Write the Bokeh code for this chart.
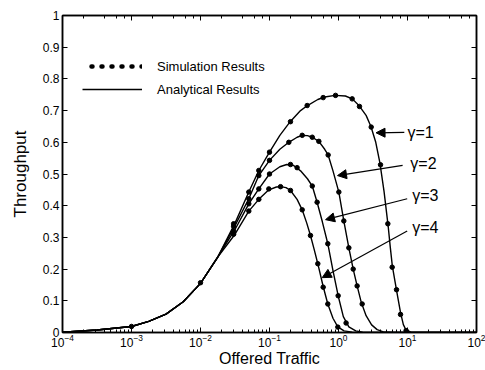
import numpy as np
from bokeh.plotting import figure
from bokeh.models import (LogAxis, LinearAxis, Legend, LegendItem, Arrow,
                          NormalHead, Label, FixedTicker, LogTicker, CustomJSTickFormatter)
from bokeh.embed import file_html
from bokeh.resources import INLINE

FONT = "Liberation Sans"

# ---------------- data ----------------
# analytical curves: log10(offered traffic) and throughput
low_logG = [-4, -3.5, -3, -2.75, -2.5, -2.25, -2, -1.75]
low_S = [0.001, 0.008, 0.019, 0.035, 0.058, 0.097, 0.155, 0.238]

g1_logG = [-1.5, -1.3, -1.155, -1.0, -0.85, -0.7, -0.55, -0.45, -0.3, -0.2, -0.05,
           0.1, 0.2, 0.3, 0.4, 0.47, 0.54, 0.6, 0.66, 0.72, 0.75, 0.78, 0.82, 0.86,
           0.9, 0.94, 0.98, 1.05, 1.3, 2.0]
g1_S = [0.345, 0.443, 0.511, 0.569, 0.622, 0.665, 0.700, 0.716, 0.735, 0.743, 0.748,
        0.746, 0.737, 0.715, 0.685, 0.650, 0.600, 0.535, 0.445, 0.335, 0.270, 0.210,
        0.160, 0.110, 0.062, 0.025, 0.007, 0.001, 0.0, 0.0]

g2_logG = [-1.5, -1.3, -1.155, -1.0, -0.85, -0.72, -0.6, -0.526, -0.45, -0.38, -0.285,
           -0.2, -0.15, -0.08, 0.005, 0.077, 0.15, 0.213, 0.27, 0.33, 0.4, 0.48, 0.56,
           0.65, 0.8, 2.0]
g2_S = [0.337, 0.422, 0.495, 0.543, 0.578, 0.600, 0.616, 0.622, 0.621, 0.616, 0.603,
        0.578, 0.560, 0.510, 0.443, 0.352, 0.267, 0.200, 0.147, 0.095, 0.053, 0.024,
        0.009, 0.002, 0.0, 0.0]

g3_logG = [-1.5, -1.3, -1.155, -1.0, -0.85, -0.75, -0.65, -0.55, -0.45, -0.38, -0.31,
           -0.235, -0.155, -0.08, -0.005, 0.07, 0.15, 0.25, 0.35, 0.5, 2.0]
g3_S = [0.325, 0.406, 0.453, 0.500, 0.523, 0.530, 0.527, 0.510, 0.485, 0.462, 0.411,
        0.350, 0.280, 0.195, 0.116, 0.050, 0.018, 0.005, 0.001, 0.0, 0.0]

g4_logG = [-1.5, -1.3, -1.155, -1.01, -0.9, -0.84, -0.76, -0.696, -0.6, -0.526, -0.46,
           -0.406, -0.35, -0.3, -0.222, -0.155, -0.08, -0.01, 0.08, 0.2, 0.35, 2.0]
g4_S = [0.310, 0.383, 0.420, 0.450, 0.459, 0.460, 0.457, 0.448, 0.420, 0.387, 0.345,
        0.306, 0.260, 0.217, 0.145, 0.090, 0.045, 0.018, 0.005, 0.001, 0.0, 0.0]

# simulation points
s1_logG = [-3, -2, -1.52, -1.3, -1.155, -1.0, -0.696, -0.454, -0.222, -0.043, 0.198,
           0.304, 0.474, 0.609, 0.715, 0.778, 0.841, 0.899, 0.98, 1.0]
s1_S = [0.019, 0.157, 0.343, 0.443, 0.511, 0.569, 0.665, 0.716, 0.741, 0.748, 0.737,
        0.713, 0.648, 0.529, 0.343, 0.206, 0.135, 0.057, 0.006, 0.0]
s2_logG = [-1.52, -1.3, -1.155, -1.0, -0.72, -0.526, -0.38, -0.285, -0.15, 0.005,
           0.077, 0.15, 0.213, 0.27, 0.343]
s2_S = [0.335, 0.422, 0.495, 0.543, 0.600, 0.622, 0.616, 0.603, 0.560, 0.443, 0.352,
        0.267, 0.200, 0.147, 0.090]
s3_logG = [-1.52, -1.3, -1.155, -1.0, -0.696, -0.6, -0.38, -0.31, -0.155, -0.005, 0.11]
s3_S = [0.320, 0.406, 0.453, 0.500, 0.530, 0.520, 0.462, 0.411, 0.280, 0.116, 0.030]
s4_logG = [-1.52, -1.3, -1.155, -1.01, -0.84, -0.696, -0.526, -0.406, -0.3, -0.222,
           -0.155, -0.01]
s4_S = [0.310, 0.383, 0.420, 0.453, 0.460, 0.448, 0.387, 0.306, 0.217, 0.143, 0.090, 0.017]

# annotations (gamma labels with arrows)
gamma_labels = ["\u03b3=1", "\u03b3=2", "\u03b3=3", "\u03b3=4"]
label_x = [10.0, 11.0, 11.7, 11.7]
label_y = [0.632, 0.532, 0.432, 0.332]
arrow_tail_x = [9.0, 8.5, 9.9, 9.9]
arrow_tail_y = [0.631, 0.527, 0.422, 0.320]
arrow_head_x = [3.5, 0.967, 0.649, 0.58]
arrow_head_y = [0.630, 0.495, 0.356, 0.173]

y_ticks = [0, 0.1, 0.2, 0.3, 0.4, 0.5, 0.6, 0.7, 0.8, 0.9, 1]
y_tick_labels = ["0", "0.1", "0.2", "0.3", "0.4", "0.5", "0.6", "0.7", "0.8", "0.9", "1"]

# ---------------- figure ----------------
p = figure(width=485, height=370, x_axis_type="log", x_range=(1e-4, 1e2),
           y_range=(0, 1), output_backend="svg", toolbar_location=None,
           min_border_left=62, min_border_top=15, min_border_right=9,
           min_border_bottom=38)
p.grid.visible = False
p.outline_line_color = "black"
p.outline_line_width = 1.5
p.background_fill_color = "white"
p.border_fill_color = "white"

blank = CustomJSTickFormatter(code="return '';")


def style_axis(ax):
    ax.axis_line_color = "black"
    ax.axis_line_width = 1.5
    ax.major_tick_in = 5
    ax.major_tick_out = 0
    ax.minor_tick_in = 3
    ax.minor_tick_out = 0
    ax.major_tick_line_color = "black"
    ax.minor_tick_line_color = "black"
    ax.major_label_text_font = FONT
    ax.major_label_text_font_size = "12px"
    ax.major_label_text_color = "black"
    ax.axis_label_text_font = FONT
    ax.axis_label_text_font_size = "16px"
    ax.axis_label_text_font_style = "normal"
    ax.axis_label_text_color = "black"


xa = p.xaxis[0]
style_axis(xa)
xa.axis_label = "Offered Traffic"
xa.major_label_standoff = 1
xa.axis_label_standoff = 0

ya = p.yaxis[0]
style_axis(ya)
ya.ticker = FixedTicker(ticks=y_ticks)
ya.major_label_overrides = {t: l for t, l in zip(y_ticks, y_tick_labels)}
ya.minor_tick_in = 0
ya.axis_label = "Throughput"
ya.axis_label_text_font_size = "17px"
ya.major_label_standoff = 3
ya.axis_label_standoff = 10

top = LogAxis(ticker=LogTicker(), formatter=blank)
style_axis(top)
top.major_label_standoff = 0
p.add_layout(top, "above")

right = LinearAxis(ticker=FixedTicker(ticks=y_ticks), formatter=blank)
style_axis(right)
right.minor_tick_in = 0
right.major_label_standoff = 0
p.add_layout(right, "right")

curves = [(g1_logG, g1_S), (g2_logG, g2_S), (g3_logG, g3_S), (g4_logG, g4_S)]
sims = [(s1_logG, s1_S), (s2_logG, s2_S), (s3_logG, s3_S), (s4_logG, s4_S)]

ana_renderers = []
for lg, s in curves:
    xs = [10 ** v for v in low_logG + lg]
    ys = low_S + s
    r = p.line(xs, ys, line_color="black", line_width=1.4)
    ana_renderers.append(r)

for lg, s in sims:
    p.scatter([10 ** v for v in lg], s, size=4.5, color="black")

# legend key for the simulation dots (one NaN point: draws nothing in the plot)
sim_key = p.line([np.nan], [np.nan], line_color="black", line_width=4.5,
                 line_dash="1 9", line_dash_offset=1, line_cap="round")

legend = Legend(items=[LegendItem(label="Simulation Results", renderers=[sim_key]),
                       LegendItem(label="Analytical Results", renderers=[ana_renderers[0]])],
                location=(20, 233), glyph_width=60, glyph_height=20, label_height=20,
                spacing=3, padding=0, margin=0, border_line_color=None,
                background_fill_alpha=0, label_standoff=15,
                label_text_font=FONT, label_text_font_size="13px",
                label_text_color="black")
p.add_layout(legend)

for lx, ly, txt, tx, ty, hx, hy in zip(label_x, label_y, gamma_labels, arrow_tail_x,
                                       arrow_tail_y, arrow_head_x, arrow_head_y):
    p.add_layout(Arrow(end=NormalHead(size=9, fill_color="black", line_color="black"),
                       x_start=tx, y_start=ty, x_end=hx, y_end=hy,
                       line_color="black", line_width=1.2))
    p.add_layout(Label(x=lx, y=ly, text=txt, text_baseline="middle",
                       text_font=FONT, text_font_size="16px", text_color="black"))

open("out.html", "w").write(file_html(p, INLINE))
